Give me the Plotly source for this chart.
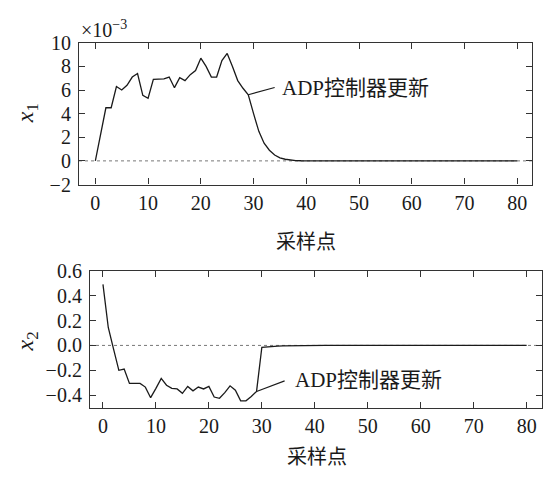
import plotly.graph_objects as go

# ---- data ----
samples = list(range(0, 81))
x1_milli = [0, 2.2, 4.5, 4.5, 6.3, 6.0, 6.4, 7.1, 7.4, 5.55,
            5.3, 6.9, 6.95, 6.95, 7.1, 6.2, 7.05, 6.8, 7.3, 7.65,
            8.7, 8.0, 7.1, 7.1, 8.5, 9.1, 8.0, 6.8, 6.15, 5.6,
            4.0, 2.5, 1.5, 0.9, 0.5, 0.25, 0.14, 0.06, 0.03, 0.01] + [0.0] * 41
x2_vals = [0.49, 0.144, -0.03, -0.2, -0.19, -0.305, -0.305, -0.305, -0.335, -0.42,
           -0.345, -0.265, -0.32, -0.345, -0.35, -0.385, -0.33, -0.365, -0.335, -0.35,
           -0.33, -0.415, -0.425, -0.38, -0.325, -0.36, -0.445, -0.445, -0.41, -0.37,
           -0.015, -0.01, -0.007, -0.005, -0.003, -0.002, -0.001] + [0.0] * 44
update_idx = 29
x_ticks = [0, 10, 20, 30, 40, 50, 60, 70, 80]
y1_ticks = [-2, 0, 2, 4, 6, 8, 10]
y1_ticktext = ["\u22122", "0", "2", "4", "6", "8", "10"]
y2_ticks = [-0.4, -0.2, 0.0, 0.2, 0.4, 0.6]
y2_ticktext = ["\u22120.4", "\u22120.2", "0.0", "0.2", "0.4", "0.6"]
annot_latin = "ADP"
annot_cjk = "控制器更新"
xlabel = "采样点"

SERIF = "Liberation Serif"
CJK = "Noto Sans CJK SC"
INK = "#1a1a1a"
W, H = 545, 488

fig = go.Figure()
fig.add_trace(go.Scatter(x=samples, y=x1_milli, mode="lines",
                         line=dict(color=INK, width=1.3), xaxis="x", yaxis="y",
                         showlegend=False, hoverinfo="skip"))
fig.add_trace(go.Scatter(x=samples, y=x2_vals, mode="lines",
                         line=dict(color=INK, width=1.3), xaxis="x2", yaxis="y2",
                         showlegend=False, hoverinfo="skip"))

axis_common = dict(showline=True, linecolor="#333", linewidth=1.2, mirror="ticks",
                   ticks="inside", ticklen=6, tickwidth=1.1, tickcolor="#333",
                   showgrid=False, zeroline=False,
                   tickfont=dict(family=SERIF, size=20, color=INK))

fig.update_layout(
    width=W, height=H, autosize=False,
    margin=dict(l=0, r=0, t=0, b=0),
    paper_bgcolor="white", plot_bgcolor="white",
    font=dict(family=SERIF, color=INK),
    xaxis=dict(domain=[79 / W, 532 / W], range=[-3.1, 82.8], anchor="y",
               tickvals=x_ticks, **axis_common),
    yaxis=dict(domain=[1 - 181.7 / H, 1 - 33.3 / H], range=[-2, 10], anchor="x",
               tickvals=y1_ticks, ticktext=y1_ticktext, ticklabelstandoff=3,
               **axis_common),
    xaxis2=dict(domain=[90 / W, 542 / W], range=[-2.45, 82.9], anchor="y2",
                tickvals=x_ticks, **axis_common),
    yaxis2=dict(domain=[1 - 416 / H, 1 - 272 / H], range=[-0.505, 0.6], anchor="x2",
                tickvals=y2_ticks, ticktext=y2_ticktext, ticklabelstandoff=3,
                **axis_common),
)

# zero reference lines (dotted)
for xr, yr in (("x domain", "y"), ("x2 domain", "y2")):
    fig.add_shape(type="line", xref=xr, yref=yr, x0=0, x1=1, y0=0, y1=0,
                  line=dict(color="#777", width=1, dash="dot"), layer="below")

# leader lines for annotation
fig.add_shape(type="line", xref="x", yref="y", x0=update_idx, y0=x1_milli[update_idx],
              x1=34.0, y1=6.22, line=dict(color=INK, width=1.1))
fig.add_shape(type="line", xref="x2", yref="y2", x0=update_idx, y0=x2_vals[update_idx],
              x1=34.3, y1=-0.285, line=dict(color=INK, width=1.1))

annot_html = (f"<span style='font-family:{SERIF}'>{annot_latin}</span>"
              f"<span style='font-family:{CJK}'>{annot_cjk}</span>")
ann_font = dict(family=SERIF + ", " + CJK, size=21, color=INK)
fig.add_annotation(x=35.0, y=6.3, xref="x", yref="y", text=annot_html, showarrow=False,
                   xanchor="left", yanchor="middle", font=ann_font)
fig.add_annotation(x=35.8, y=-0.26, xref="x2", yref="y2", text=annot_html, showarrow=False,
                   xanchor="left", yanchor="middle", font=ann_font)

# exponent label
fig.add_annotation(x=79 / W, y=1 - 19 / H, xref="paper", yref="paper",
                   text="\u00d710<sup>\u22123</sup>", showarrow=False,
                   xanchor="left", yanchor="middle", font=dict(family=SERIF, size=20, color=INK))

# axis titles
title_font = dict(family=SERIF, size=24, color=INK)
fig.add_annotation(x=27 / W, y=1 - 107 / H, xref="paper", yref="paper",
                   text="<i>x</i><sub>1</sub>", textangle=-90, showarrow=False,
                   xanchor="center", yanchor="middle", font=title_font)
fig.add_annotation(x=27 / W, y=1 - 346 / H, xref="paper", yref="paper",
                   text="<i>x</i><sub>2</sub>", textangle=-90, showarrow=False,
                   xanchor="center", yanchor="middle", font=title_font)
cjk_font = dict(family=CJK, size=20, color=INK)
fig.add_annotation(x=305.5 / W, y=1 - 240 / H, xref="paper", yref="paper",
                   text=xlabel, showarrow=False, xanchor="center", yanchor="middle",
                   font=cjk_font)
fig.add_annotation(x=316.5 / W, y=1 - 466 / H, xref="paper", yref="paper",
                   text=xlabel, showarrow=False, xanchor="center", yanchor="middle",
                   font=cjk_font)

fig.write_html("out.html", config={"displayModeBar": False},
               post_script="document.body.style.margin='0';")
